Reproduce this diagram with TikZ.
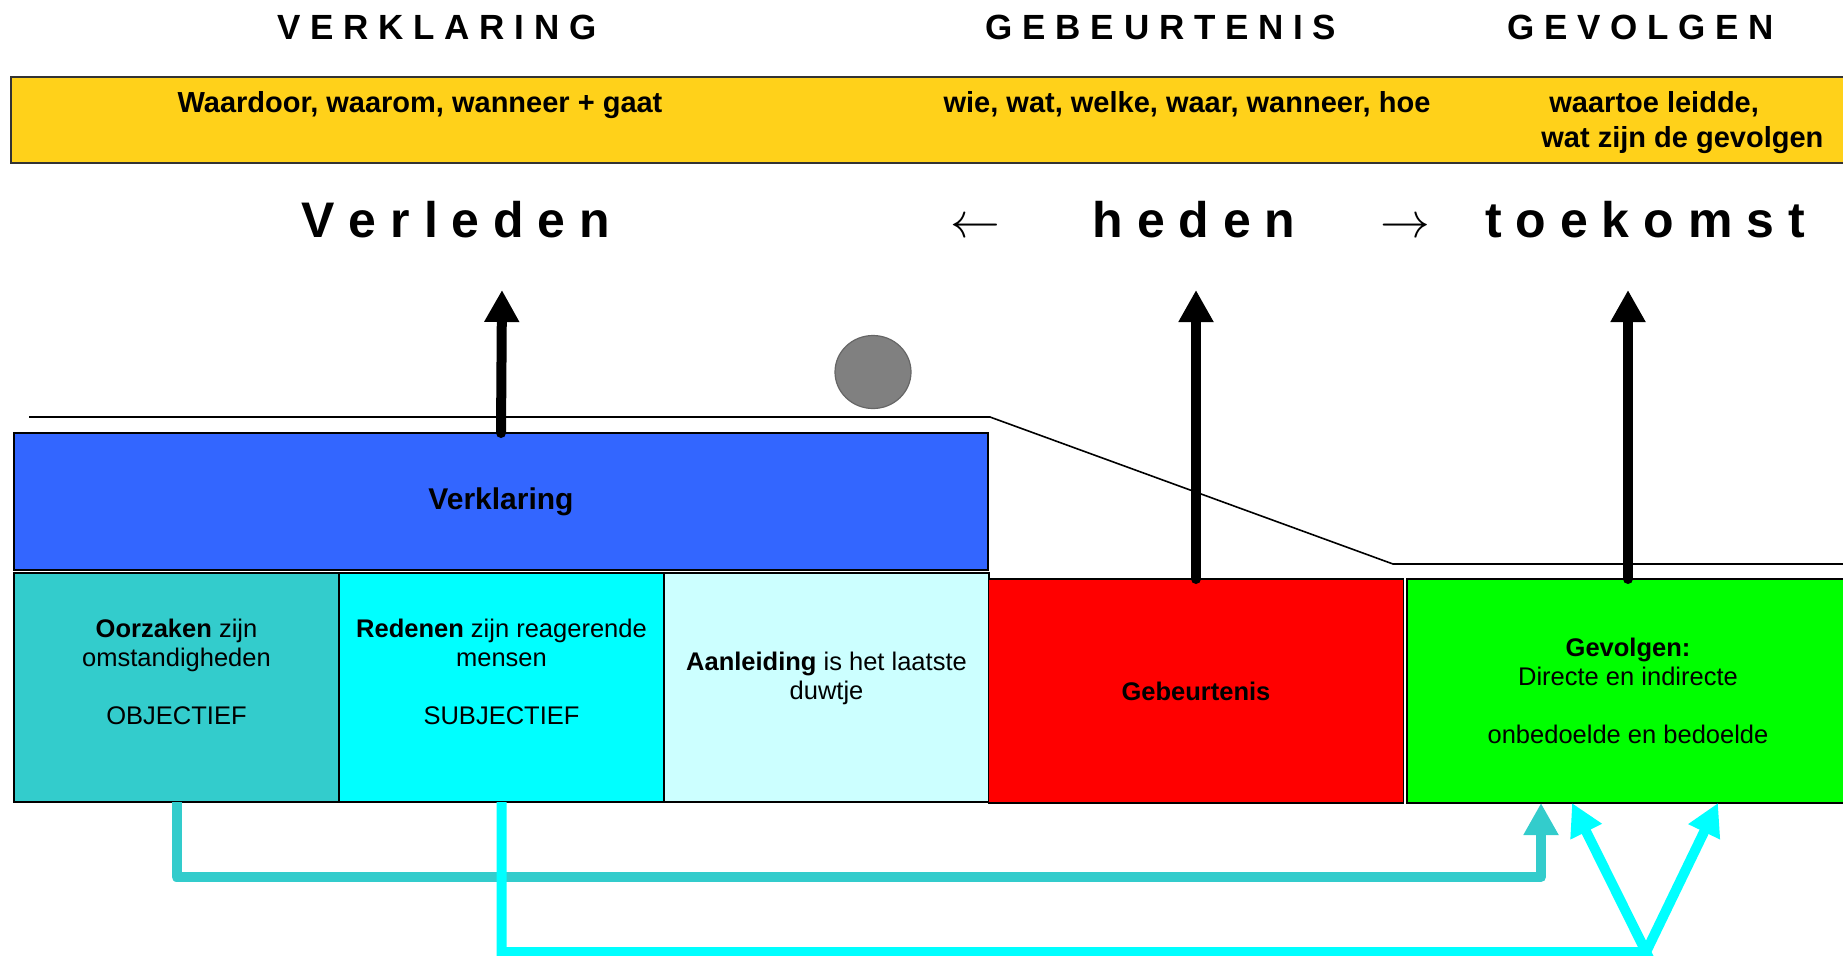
\documentclass[tikz,border=0pt]{standalone}
\usepackage[dvipsnames]{xcolor}
\usepackage{fontspec}
\setmainfont{Liberation Sans}
\usepackage{tikz}
\usetikzlibrary{arrows.meta,shapes.geometric,positioning}

\definecolor{bandgeel}{HTML}{FFD11A}
\definecolor{verklblauw}{HTML}{3366FF}
\definecolor{oorzteal}{HTML}{33CCCC}
\definecolor{redencyaan}{HTML}{00FFFF}
\definecolor{aanlbleek}{HTML}{CCFFFF}
\definecolor{gebrood}{HTML}{FF0000}
\definecolor{gevgroen}{HTML}{00FF00}

\begin{document}
\begin{tikzpicture}[x=0.5pt,y=-0.5pt,
    box/.style={draw=black, line width=0.75pt, inner sep=0pt, outer sep=0pt},
    cell/.style={box, minimum width=162.5pt, minimum height=114.5pt},
    kop/.style={font=\fontsize{17.5}{20}\selectfont\bfseries, anchor=base},
    tijd/.style={font=\fontsize{25}{28}\selectfont\bfseries, anchor=base},
    pijl/.style={font=\fontsize{24}{24}\selectfont, anchor=base},
    bandtekst/.style={font=\fontsize{14.5}{17.5}\selectfont\bfseries, anchor=base, inner sep=0pt},
    celtekst/.style={font=\fontsize{12.75}{14.5}\selectfont, align=center, inner sep=0pt},
    omhoog/.style={-{Triangle[length=16pt,width=16.5pt]}, line width=5pt, line cap=round},
    verbind/.style={-{Triangle[length=16pt,width=16.5pt]}, line width=5pt}]

\useasboundingbox (0,0) rectangle (1843,955);

% kopjes
\node[kop] (kopverkl) at (437,39)  {V E R K L A R I N G};
\node[kop] (kopgeb)   at (1161,39) {G E B E U R T E N I S};
\node[kop] (kopgev)   at (1641,39) {G E V O L G E N};

% gele balk
\node[box, draw=black!80, fill=bandgeel, minimum width=919.5pt, minimum height=43pt,
      anchor=north west] (band) at (11,77) {};
\node[bandtekst] (bandverkl) at (420,112)  {Waardoor, waarom, wanneer + gaat};
\node[bandtekst] (bandgeb)   at (1187,112) {wie, wat, welke, waar, wanneer, hoe};
\node[bandtekst, align=left, anchor=north west] (bandgev) at (1541,91)
     {\hspace*{4pt}waartoe leidde,\\wat zijn de gevolgen};

% tijdlijn
\node[tijd] (verleden) at (456,237)  {V e r l e d e n};
\node[pijl] (links)    at (975,237)  {$\leftarrow$};
\node[tijd] (heden)    at (1194,237) {h e d e n};
\node[pijl] (rechts)   at (1405,237) {$\rightarrow$};
\node[tijd] (toekomst) at (1645,237) {t o e k o m s t};

% helling met bal
\draw[line width=0.8pt] (29,417) -- (990,417) -- (1393,564) -- (1850,564);
\node[ellipse, draw=black!60, fill=black!50, line width=0.6pt, minimum width=38pt,
      minimum height=36.5pt, inner sep=0pt] (bal) at (873,372) {};

% vakken
\node[cell, fill=oorzteal] (oorz) at (176.5,687.5) {};
\node[cell, fill=redencyaan, right=0pt of oorz] (reden) {};
\node[cell, fill=aanlbleek, right=0pt of reden] (aanl) {};
\node[box, fill=verklblauw, minimum width=487pt, minimum height=68.5pt,
      font=\fontsize{15}{18}\selectfont\bfseries, above right=1.5pt and 0pt of oorz.north west] (verkl) {Verklaring};
\node[box, fill=gebrood, minimum width=207.5pt, minimum height=112pt,
      font=\fontsize{12.75}{14.5}\selectfont\bfseries] (gebeur) at (1196,691) {Gebeurtenis};
\node[box, fill=gevgroen, minimum width=221pt, minimum height=112pt,
      font=\fontsize{12.75}{14.5}\selectfont, align=center] (gevolg) at (1628,691)
     {\textbf{Gevolgen:}\\Directe en indirecte\\[14.5pt]onbedoelde en bedoelde};

\node[celtekst] (oorztekst)  at ([yshift=8pt]oorz.center)  {\textbf{Oorzaken} zijn\\omstandigheden\\[14.5pt]OBJECTIEF};
\node[celtekst] (redentekst) at ([yshift=8pt]reden.center) {\textbf{Redenen} zijn reagerende\\mensen\\[14.5pt]SUBJECTIEF};
\node[celtekst] (aanltekst)  at ([yshift=4.5pt]aanl.center)  {\textbf{Aanleiding} is het laatste\\duwtje};

% pijlen omhoog
\coordinate (tipverl) at (502,290);
\coordinate (tipheden) at (gebeur.north |- tipverl);
\coordinate (tiptoek) at (gevolg.north |- tipverl);
\path[omhoog]
    (verkl.north)  edge (tipverl)
    (gebeur.north) edge (tipheden)
    (gevolg.north) edge (tiptoek);

% verbindingen naar gevolgen
\coordinate (vpunt) at (1646,952);
\draw[verbind, oorzteal, line join=round] (oorz.south) -- ++(0,75) -| ([xshift=-43.5pt]gevolg.south);
\draw[verbind, redencyaan] (reden.south) |- (vpunt) -- ([xshift=-28pt]gevolg.south);
\draw[verbind, redencyaan] (vpunt) -- ([xshift=45pt]gevolg.south);

\end{tikzpicture}
\end{document}
